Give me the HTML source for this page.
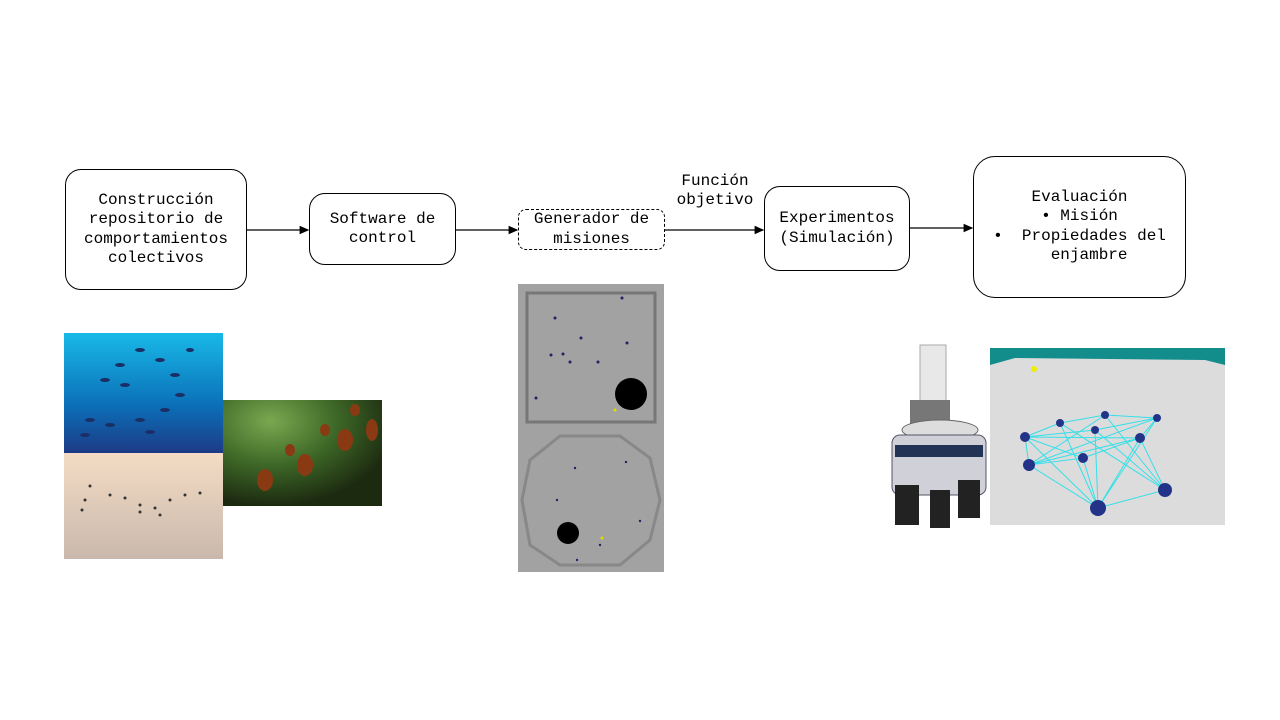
<!DOCTYPE html>
<html><head><meta charset="utf-8"><style>
body{margin:0;width:1280px;height:720px;background:#fff;position:relative;overflow:hidden;font-family:"Liberation Mono",monospace;}
.b{position:absolute;border:1px solid #000;border-radius:16px;display:flex;align-items:center;justify-content:center;text-align:center;font-size:16px;line-height:19.3px;color:#000;box-sizing:border-box;}
.t{position:absolute;font-size:16px;line-height:19.3px;text-align:center;}
</style></head><body>
<div class="b" style="left:65px;top:169px;width:182px;height:121px;">Construcción<br>repositorio de<br>comportamientos<br>colectivos</div>
<div class="b" style="left:309px;top:193px;width:147px;height:72px;">Software de<br>control</div>
<div class="b" style="left:518px;top:209px;width:147px;height:41px;border:1px dashed #000;border-radius:8px;">Generador de<br>misiones</div>
<div class="b" style="left:764px;top:186px;width:146px;height:85px;">Experimentos<br>(Simulación)</div>
<div class="b" style="left:973px;top:156px;width:213px;height:142px;border-radius:22px;display:block;padding-top:31px;">Evaluación<br>• Misión<br>•&nbsp;&nbsp;Propiedades del<br>&nbsp;&nbsp;enjambre</div>
<div class="t" style="left:665px;top:172px;width:100px;">Función<br>objetivo</div>
<svg width="1280" height="720" style="position:absolute;left:0;top:0">
<defs><marker id="a" markerWidth="8" markerHeight="8" refX="7" refY="4" orient="auto"><path d="M0,0.5L8,4L0,7.5z"/></marker></defs>
<g stroke="#000" stroke-width="1.2" marker-end="url(#a)">
<line x1="247" y1="230" x2="308" y2="230"/><line x1="456" y1="230" x2="517" y2="230"/>
<line x1="665" y1="230" x2="763" y2="230"/><line x1="910" y1="228" x2="972" y2="228"/></g>
<defs><linearGradient id="sea" x1="0" y1="0" x2="0" y2="1"><stop offset="0" stop-color="#19b9e8"/><stop offset="0.6" stop-color="#0b70b8"/><stop offset="1" stop-color="#1d3a86"/></linearGradient>
<linearGradient id="sky" x1="0" y1="0" x2="0" y2="1"><stop offset="0" stop-color="#f4dcc4"/><stop offset="1" stop-color="#c9b8ac"/></linearGradient>
<radialGradient id="leaf" cx="0.3" cy="0.2" r="0.8"><stop offset="0" stop-color="#7aa850"/><stop offset="0.5" stop-color="#3f6a28"/><stop offset="1" stop-color="#1c2a10"/></radialGradient></defs>
<rect x="64" y="333" width="159" height="120" fill="url(#sea)"/>
<g fill="#1b2f66"><ellipse cx="120" cy="365" rx="5" ry="2"/><ellipse cx="140" cy="350" rx="5" ry="2"/><ellipse cx="160" cy="360" rx="5" ry="2"/><ellipse cx="175" cy="375" rx="5" ry="2"/><ellipse cx="180" cy="395" rx="5" ry="2"/><ellipse cx="165" cy="410" rx="5" ry="2"/><ellipse cx="140" cy="420" rx="5" ry="2"/><ellipse cx="110" cy="425" rx="5" ry="2"/><ellipse cx="90" cy="420" rx="5" ry="2"/><ellipse cx="125" cy="385" rx="5" ry="2"/><ellipse cx="105" cy="380" rx="5" ry="2"/><ellipse cx="150" cy="432" rx="5" ry="2"/><ellipse cx="85" cy="435" rx="5" ry="2"/><ellipse cx="190" cy="350" rx="4" ry="2"/></g>
<rect x="64" y="453" width="159" height="106" fill="url(#sky)"/>
<g fill="#333"><circle cx="90" cy="486" r="1.5"/><circle cx="85" cy="500" r="1.5"/><circle cx="82" cy="510" r="1.5"/><circle cx="110" cy="495" r="1.5"/><circle cx="125" cy="498" r="1.5"/><circle cx="140" cy="505" r="1.5"/><circle cx="155" cy="508" r="1.5"/><circle cx="170" cy="500" r="1.5"/><circle cx="185" cy="495" r="1.5"/><circle cx="200" cy="493" r="1.5"/><circle cx="160" cy="515" r="1.5"/><circle cx="140" cy="512" r="1.5"/></g>
<rect x="223" y="400" width="159" height="106" fill="url(#leaf)"/>
<g fill="#8a3a12"><ellipse cx="265" cy="480" rx="8" ry="11"/><ellipse cx="305" cy="465" rx="8" ry="11"/><ellipse cx="345" cy="440" rx="8" ry="11"/><ellipse cx="372" cy="430" rx="6" ry="11"/><ellipse cx="290" cy="450" rx="5" ry="6"/><ellipse cx="325" cy="430" rx="5" ry="6"/><ellipse cx="355" cy="410" rx="5" ry="6"/></g>
<rect x="518" y="284" width="146" height="288" fill="#a2a2a2"/>
<rect x="527" y="293" width="128" height="129" fill="none" stroke="#777" stroke-width="3"/>
<polygon points="560,436 620,436 650,458 660,500 650,540 620,565 560,565 530,545 522,500 530,460" fill="none" stroke="#888" stroke-width="3"/>
<circle cx="631" cy="394" r="16" fill="#000"/><circle cx="568" cy="533" r="11" fill="#000"/>
<g fill="#222266"><circle cx="622" cy="298" r="1.5"/><circle cx="555" cy="318" r="1.5"/><circle cx="581" cy="338" r="1.5"/><circle cx="627" cy="343" r="1.5"/><circle cx="551" cy="355" r="1.5"/><circle cx="563" cy="354" r="1.5"/><circle cx="570" cy="362" r="1.5"/><circle cx="598" cy="362" r="1.5"/><circle cx="536" cy="398" r="1.5"/><circle cx="575" cy="468" r="1.2"/><circle cx="626" cy="462" r="1.2"/><circle cx="557" cy="500" r="1.2"/><circle cx="640" cy="521" r="1.2"/><circle cx="600" cy="545" r="1.2"/><circle cx="577" cy="560" r="1.2"/></g>
<circle cx="615" cy="410" r="1.5" fill="#dd0"/><circle cx="602" cy="538" r="1.5" fill="#dd0"/>
<rect x="920" y="345" width="26" height="60" fill="#e8e8e8" stroke="#aaa"/>
<rect x="910" y="400" width="40" height="25" fill="#777"/>
<ellipse cx="940" cy="430" rx="38" ry="10" fill="#ddd" stroke="#666"/>
<rect x="892" y="435" width="94" height="60" rx="8" fill="#d0d0d8" stroke="#556"/>
<rect x="895" y="445" width="88" height="12" fill="#223355"/>
<rect x="895" y="485" width="24" height="40" fill="#222"/><rect x="930" y="490" width="20" height="38" fill="#222"/><rect x="958" y="480" width="22" height="38" fill="#222"/>
<rect x="990" y="348" width="235" height="177" fill="#dcdcdc"/>
<polygon points="990,348 1225,348 1225,365 1205,360 1015,358 990,365" fill="#138c8c"/>
<circle cx="1034" cy="369" r="3" fill="#ee0"/>
<g stroke="#33e0e8" stroke-width="1" fill="none">
<path d="M1025,437 L1060,423 L1105,415 L1157,418 L1140,438 L1083,458 L1025,437 L1029,465 L1083,458 L1098,508 L1165,490 L1140,438 L1098,508 L1029,465 L1105,415 L1165,490 L1060,423 L1098,508 L1025,437 L1140,438 L1029,465 L1157,418 L1098,508 M1095,430 L1025,437 M1095,430 L1157,418 M1095,430 L1098,508 M1095,430 L1165,490 M1060,423 L1165,490"/></g>
<g fill="#223388"><circle cx="1025" cy="437" r="5"/><circle cx="1060" cy="423" r="4"/><circle cx="1105" cy="415" r="4"/><circle cx="1157" cy="418" r="4"/><circle cx="1140" cy="438" r="5"/><circle cx="1083" cy="458" r="5"/><circle cx="1095" cy="430" r="4"/><circle cx="1029" cy="465" r="6"/><circle cx="1098" cy="508" r="8"/><circle cx="1165" cy="490" r="7"/></g>
</svg>
</body></html>
